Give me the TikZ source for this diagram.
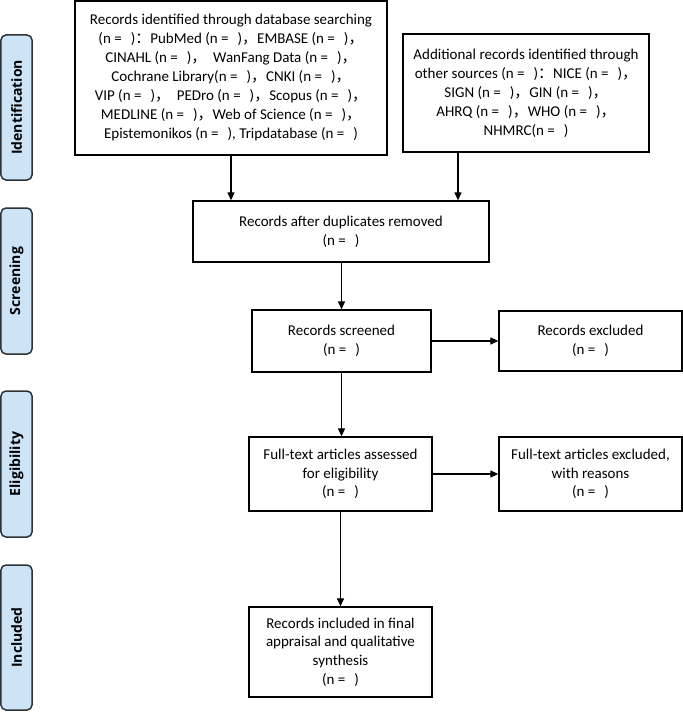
\documentclass[tikz,border=0pt]{standalone}
\usepackage{fontspec}
\setmainfont{Carlito}
\newfontfamily\cjk{Noto Sans CJK SC}
\newfontfamily\tabfont{Open Sans}
\usetikzlibrary{arrows.meta}
\newcommand{\cc}{{\cjk ，}}
\newcommand{\cl}{{\cjk ：}}
\newcommand{\nn}{(n =\hspace{9bp})}
\definecolor{tabblue}{RGB}{204,228,246}
\definecolor{tabedge}{RGB}{45,50,55}
\tikzset{
  box/.style={draw=black, line width=1.3bp, inner sep=0pt, align=center,
    font=\fontsize{15bp}{18.7bp}\selectfont},
  bigbox/.style={box, font=\fontsize{15bp}{19bp}\selectfont},
  tab/.style={draw=tabedge, fill=tabblue, line width=1.5bp, rounded corners=5bp,
    rotate=90, minimum height=31bp, inner sep=0pt,
    font=\tabfont\bfseries\fontsize{14bp}{16bp}\selectfont},
  arr/.style={line width=1.2bp, -{Triangle[length=8bp,width=7bp]}}
}
\begin{document}
\begin{tikzpicture}[x=1bp, y=-1bp]
\useasboundingbox (0,0) rectangle (683,712);
% phase tabs
\node[tab, minimum width=145bp] (tid) at (16.5,107.5) {Identification};
\node[tab, minimum width=146bp] (tsc) at (16.5,281) {Screening};
\node[tab, minimum width=146bp] (tel) at (16.5,464) {Eligibility};
\node[tab, minimum width=145bp] (tin) at (16.5,637.5) {Included};
% boxes
\node[bigbox, minimum width=312bp, minimum height=154bp] (ident) at (231,78)
{Records identified through database searching\\
\nn\cl PubMed \nn\cc EMBASE \nn\cc\\
CINAHL \nn\cc\ \ WanFang Data \nn\cc\\
Cochrane Library\nn\cc CNKI \nn\cc\\
VIP \nn\cc\ \ PEDro \nn\cc Scopus \nn\cc\\
MEDLINE \nn\cc Web of Science \nn\cc\\
Epistemonikos \nn, Tripdatabase \nn};
\node[bigbox, minimum width=246bp, minimum height=118bp] (other) at (526,93)
{Additional records identified through\\
other sources \nn\cl NICE \nn\cc\\
SIGN \nn\cc GIN \nn\cc\\
AHRQ \nn\cc WHO \nn\cc\\
NHMRC\nn};
\node[box, minimum width=296bp, minimum height=61bp] (dup) at (341,231.5)
{Records after duplicates removed\\ \nn};
\node[box, minimum width=179bp, minimum height=62bp] (scr) at (341.5,341)
{Records screened\\ \nn};
\node[box, minimum width=183bp, minimum height=60bp] (exc) at (590.5,341)
{Records excluded\\ \nn};
\node[box, minimum width=183bp, minimum height=74bp] (full) at (340.5,474)
{Full-text articles assessed\\ for eligibility\\ \nn};
\node[box, minimum width=183bp, minimum height=74bp] (fexc) at (590.5,474)
{Full-text articles excluded,\\ with reasons\\ \nn};
\node[box, minimum width=183bp, minimum height=90bp] (inc) at (340.5,652)
{Records included in final\\ appraisal and qualitative\\ synthesis\\ \nn};
% connectors
\draw[arr] (ident.south) -- (ident.south |- dup.north);
\draw[arr] ([xshift=-68bp]other.south) -- ([xshift=-68bp]other.south |- dup.north);
\draw[arr] (dup.south -| scr.north) -- (scr.north);
\draw[arr] (scr.east) -- (exc.west);
\draw[arr] (scr.south) -- (scr.south |- full.north);
\draw[arr] (full.east) -- (fexc.west);
\draw[arr] (full.south) -- (inc.north);
\end{tikzpicture}
\end{document}
